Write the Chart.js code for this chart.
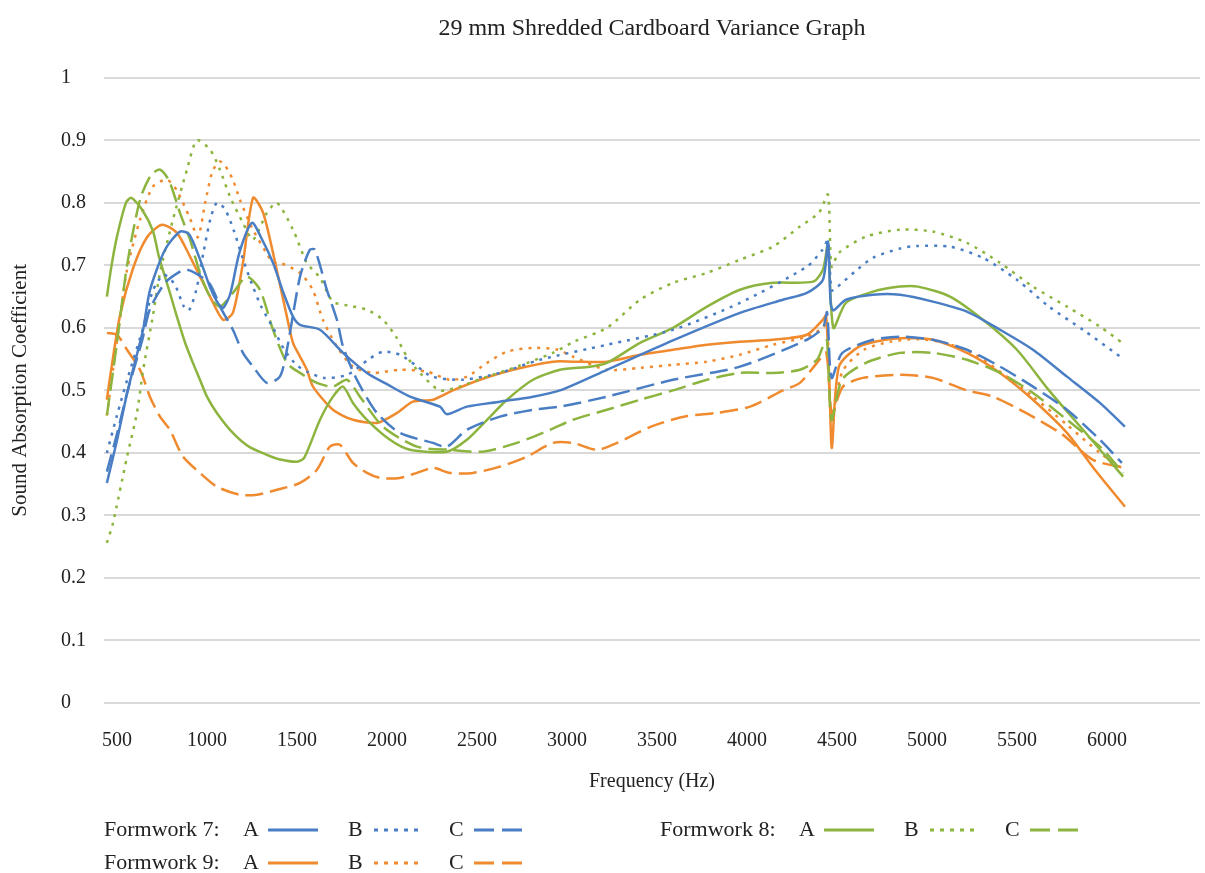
<!DOCTYPE html>
<html><head><meta charset="utf-8">
<script src="https://cdn.jsdelivr.net/npm/chart.js@4/dist/chart.umd.min.js"></script>
<style>
html,body{margin:0;padding:0;background:#fff;}
#wrap{position:relative;width:1205px;height:873px;overflow:hidden;}
#c{position:absolute;left:0;top:0;}
.lg{position:absolute;font-family:"Liberation Serif",serif;font-size:22px;color:#222;line-height:26px;white-space:nowrap;}
.ls{position:absolute;}
</style></head><body>
<div id="wrap"><canvas id="c" width="1205" height="873"></canvas><div id="legend"></div></div>
<script>
// ---- data ----
const xTickValues = [500,1000,1500,2000,2500,3000,3500,4000,4500,5000,5500,6000];
const yTickValues = [0,0.1,0.2,0.3,0.4,0.5,0.6,0.7,0.8,0.9,1];

// [frequency Hz, absorption coefficient]
const f7A = [[444,0.352],[500,0.42],[560,0.50],[645,0.597],[683,0.66],[767,0.725],[850,0.754],[900,0.75],[961,0.71],[1017,0.665],[1060,0.64],[1090,0.632],[1130,0.655],[1180,0.72],[1250,0.768],[1300,0.745],[1367,0.704],[1420,0.66],[1478,0.618],[1517,0.605],[1628,0.597],[1756,0.56],[1889,0.528],[2000,0.51],[2128,0.49],[2294,0.474],[2333,0.462],[2444,0.474],[2628,0.482],[2811,0.49],[2961,0.50],[3222,0.533],[3589,0.58],[3961,0.624],[4200,0.645],[4333,0.656],[4422,0.677],[4450,0.738],[4465,0.64],[4480,0.628],[4550,0.645],[4700,0.653],[4850,0.653],[5033,0.642],[5222,0.626],[5406,0.597],[5589,0.565],[5778,0.522],[5961,0.48],[6100,0.442]];
const f7B = [[444,0.40],[500,0.46],[560,0.52],[645,0.60],[700,0.66],[760,0.685],[820,0.67],[870,0.635],[900,0.628],[940,0.66],[980,0.72],[1020,0.775],[1055,0.80],[1100,0.79],[1150,0.755],[1200,0.71],[1250,0.67],[1300,0.635],[1367,0.60],[1430,0.565],[1500,0.54],[1556,0.53],[1650,0.52],[1780,0.525],[1900,0.55],[1978,0.562],[2072,0.557],[2170,0.538],[2250,0.522],[2420,0.517],[2628,0.528],[2850,0.549],[3222,0.573],[3589,0.597],[3961,0.64],[4333,0.698],[4420,0.725],[4450,0.74],[4470,0.66],[4500,0.665],[4600,0.69],[4700,0.712],[4850,0.727],[4944,0.731],[5128,0.73],[5311,0.712],[5500,0.677],[5678,0.634],[5867,0.597],[6083,0.552]];
const f7C = [[444,0.37],[500,0.43],[560,0.50],[640,0.58],[683,0.63],[767,0.672],[850,0.69],[889,0.693],[950,0.685],[1017,0.67],[1080,0.63],[1144,0.597],[1200,0.56],[1256,0.538],[1333,0.512],[1405,0.522],[1444,0.565],[1517,0.682],[1572,0.725],[1600,0.725],[1667,0.66],[1722,0.613],[1756,0.57],[1833,0.517],[1944,0.464],[2072,0.432],[2256,0.416],[2333,0.41],[2444,0.437],[2628,0.458],[2811,0.469],[2961,0.474],[3222,0.49],[3589,0.517],[3961,0.538],[4333,0.581],[4422,0.60],[4445,0.625],[4470,0.52],[4530,0.56],[4700,0.581],[4850,0.586],[5033,0.581],[5222,0.565],[5406,0.538],[5589,0.506],[5778,0.469],[5961,0.421],[6083,0.384]];
const f8A = [[444,0.65],[470,0.70],[500,0.746],[550,0.80],[580,0.808],[640,0.789],[700,0.755],[733,0.714],[790,0.66],[833,0.618],[880,0.575],[922,0.544],[961,0.517],[1000,0.49],[1055,0.464],[1144,0.432],[1233,0.41],[1333,0.397],[1400,0.39],[1500,0.386],[1540,0.392],[1628,0.453],[1700,0.49],[1756,0.506],[1811,0.48],[1889,0.453],[2017,0.421],[2128,0.405],[2333,0.402],[2444,0.421],[2556,0.453],[2667,0.485],[2811,0.517],[2961,0.533],[3128,0.538],[3222,0.544],[3406,0.576],[3589,0.60],[3778,0.634],[3961,0.661],[4144,0.672],[4367,0.674],[4422,0.693],[4450,0.733],[4480,0.60],[4550,0.64],[4700,0.658],[4850,0.666],[4950,0.666],[5128,0.65],[5311,0.613],[5500,0.565],[5678,0.50],[5867,0.437],[6090,0.362]];
const f8B = [[444,0.256],[478,0.288],[556,0.394],[611,0.464],[644,0.53],[700,0.62],[739,0.688],[811,0.773],[889,0.853],[944,0.90],[1017,0.885],[1072,0.853],[1128,0.81],[1200,0.768],[1256,0.741],[1333,0.784],[1389,0.80],[1478,0.757],[1555,0.704],[1628,0.68],[1700,0.642],[1800,0.635],[1889,0.629],[1978,0.613],[2050,0.586],[2111,0.554],[2183,0.528],[2294,0.50],[2400,0.506],[2556,0.522],[2722,0.538],[2922,0.56],[3039,0.578],[3222,0.60],[3406,0.645],[3589,0.672],[3778,0.688],[3961,0.709],[4144,0.73],[4294,0.762],[4400,0.784],[4450,0.813],[4470,0.698],[4511,0.72],[4661,0.746],[4850,0.757],[5033,0.754],[5222,0.736],[5406,0.704],[5589,0.666],[5778,0.634],[5961,0.602],[6100,0.573]];
const f8C = [[444,0.46],[500,0.576],[556,0.70],[628,0.805],[690,0.845],[740,0.853],[790,0.835],[850,0.784],[906,0.741],[961,0.688],[1017,0.65],[1072,0.634],[1144,0.656],[1222,0.682],[1294,0.661],[1367,0.597],[1444,0.544],[1517,0.528],[1611,0.512],[1700,0.506],[1778,0.517],[1850,0.49],[1978,0.442],[2167,0.41],[2350,0.405],[2533,0.402],[2722,0.416],[2906,0.437],[3033,0.453],[3222,0.469],[3406,0.485],[3589,0.50],[3778,0.517],[3961,0.528],[4144,0.528],[4294,0.533],[4389,0.549],[4422,0.57],[4445,0.58],[4470,0.453],[4528,0.517],[4661,0.544],[4850,0.56],[5033,0.56],[5222,0.549],[5406,0.528],[5589,0.496],[5778,0.453],[5961,0.41],[6090,0.368]];
const f9A = [[444,0.485],[461,0.52],[517,0.62],[589,0.695],[667,0.745],[750,0.765],[833,0.752],[906,0.714],[961,0.682],[1017,0.65],[1089,0.613],[1144,0.624],[1200,0.704],[1256,0.808],[1311,0.785],[1367,0.72],[1444,0.618],[1478,0.576],[1517,0.554],[1555,0.533],[1589,0.506],[1700,0.469],[1811,0.453],[1944,0.448],[2056,0.464],[2144,0.482],[2256,0.485],[2367,0.50],[2517,0.517],[2700,0.533],[2922,0.546],[3033,0.546],[3222,0.546],[3406,0.557],[3589,0.565],[3778,0.573],[3961,0.578],[4144,0.581],[4333,0.589],[4422,0.613],[4440,0.62],[4460,0.49],[4472,0.408],[4511,0.538],[4622,0.57],[4767,0.581],[4889,0.584],[5033,0.581],[5222,0.56],[5406,0.528],[5589,0.485],[5778,0.432],[5933,0.373],[6100,0.314]];
const f9B = [[444,0.46],[500,0.58],[556,0.693],[628,0.773],[700,0.826],[778,0.837],[830,0.821],[906,0.775],[950,0.745],[990,0.80],[1030,0.85],[1070,0.866],[1100,0.86],[1144,0.837],[1183,0.805],[1250,0.76],[1330,0.72],[1367,0.704],[1405,0.704],[1517,0.688],[1589,0.66],[1644,0.613],[1722,0.57],[1811,0.538],[1922,0.528],[2072,0.533],[2222,0.53],[2350,0.517],[2444,0.522],[2556,0.544],[2667,0.562],[2811,0.568],[2950,0.565],[3033,0.554],[3222,0.533],[3406,0.536],[3589,0.541],[3778,0.546],[3961,0.557],[4144,0.573],[4333,0.586],[4422,0.60],[4445,0.61],[4470,0.45],[4530,0.53],[4650,0.565],[4800,0.578],[4950,0.582],[5100,0.576],[5250,0.56],[5406,0.53],[5589,0.49],[5778,0.445],[5961,0.40],[6100,0.372]];
const f9C = [[444,0.592],[500,0.589],[556,0.565],[628,0.533],[683,0.49],[739,0.458],[794,0.437],[867,0.394],[961,0.368],[1055,0.346],[1183,0.333],[1278,0.333],[1389,0.341],[1517,0.352],[1611,0.373],[1683,0.41],[1739,0.413],[1811,0.384],[1889,0.368],[1961,0.36],[2072,0.36],[2167,0.368],[2256,0.376],[2350,0.368],[2478,0.368],[2628,0.378],[2778,0.394],[2922,0.416],[3033,0.416],[3167,0.405],[3278,0.416],[3467,0.442],[3650,0.458],[3833,0.464],[4017,0.474],[4200,0.50],[4294,0.512],[4389,0.544],[4440,0.56],[4472,0.464],[4533,0.506],[4644,0.52],[4850,0.525],[5033,0.52],[5222,0.50],[5367,0.49],[5550,0.464],[5750,0.43],[5922,0.389],[6100,0.376]];

const groupNames = ['Formwork 7:', 'Formwork 8:', 'Formwork 9:'];
const variantNames = ['A', 'B', 'C'];
const seriesData = [[f7A,f7B,f7C],[f8A,f8B,f8C],[f9A,f9B,f9C]];

// ---- styles ----
const FONT = '"Liberation Serif", serif';
const TEXT = '#222';
const groupColors = ['#4a7ec4', '#8cb43e', '#f08a2e'];
const variantDash = [[], [3, 6], [18, 7]];
const legendDash = ['', '4,6', '20,8'];

const datasets = [];
seriesData.forEach((grp, g) => grp.forEach((pts, v) => {
  datasets.push({
    label: groupNames[g] + ' ' + variantNames[v],
    data: pts.map(p => ({x: p[0], y: p[1]})),
    borderColor: groupColors[g],
    backgroundColor: groupColors[g],
    borderWidth: 2.5,
    borderDash: variantDash[v],
    pointRadius: 0,
    tension: 0.25,
    fill: false
  });
}));

Chart.defaults.color = TEXT;
new Chart(document.getElementById('c'), {
  type: 'line',
  data: {datasets},
  options: {
    responsive: false,
    animation: false,
    devicePixelRatio: 1,
    layout: {padding: {left: 0, right: 5, top: 0, bottom: 79}},
    plugins: {
      legend: {display: false},
      tooltip: {enabled: false},
      title: {display: true, fullSize: false, text: '29 mm Shredded Cardboard Variance Graph',
        font: {family: FONT, size: 24, weight: 'normal'}, color: TEXT, padding: {top: 14, bottom: 35}}
    },
    scales: {
      x: {type: 'linear', min: 428, max: 6517,
        afterBuildTicks: s => { s.ticks = xTickValues.map(v => ({value: v})); },
        grid: {display: true, drawOnChartArea: false, drawTicks: true, tickLength: 26, color: 'rgba(0,0,0,0)'},
        border: {display: false},
        ticks: {font: {family: FONT, size: 20}, color: TEXT, padding: 0, maxRotation: 0, autoSkip: false,
          callback: v => String(v)},
        title: {display: true, text: 'Frequency (Hz)', font: {family: FONT, size: 20}, color: TEXT, padding: {top: 17, bottom: 0}}
      },
      y: {type: 'linear', min: 0, max: 1, position: 'left', weight: 0,
        afterBuildTicks: s => { s.ticks = yTickValues.map(v => ({value: v})); },
        afterFit: s => { s.width = 43; },
        grid: {color: '#d9d9d9', lineWidth: 2, drawTicks: false}, border: {display: false},
        ticks: {crossAlign: 'far', padding: 0, font: {family: FONT, size: 20}, color: TEXT,
          callback: v => String(Math.round(v * 10) / 10)}
      },
      yTitle: {type: 'linear', min: 0, max: 1, position: 'left', weight: 1,
        afterFit: s => { s.width = 61; },
        grid: {display: false, drawTicks: false}, border: {display: false},
        ticks: {display: false},
        title: {display: true, text: 'Sound Absorption Coefficient', font: {family: FONT, size: 21}, color: TEXT, padding: {top: 8, bottom: 0}}
      }
    }
  }
});

// ---- legend (HTML) ----
const legendPos = [[104, 830], [660, 830], [104, 863]];
const letterOff = [139, 244, 345];
const lineOff = [[164, 50], [270, 50], [370, 54]];
const L = document.getElementById('legend');
groupNames.forEach((name, g) => {
  const [gx, gy] = legendPos[g];
  const t = document.createElement('div');
  t.className = 'lg'; t.textContent = name;
  t.style.left = gx + 'px'; t.style.top = (gy - 14) + 'px';
  L.appendChild(t);
  variantNames.forEach((vn, v) => {
    const a = document.createElement('div');
    a.className = 'lg'; a.textContent = vn;
    a.style.left = (gx + letterOff[v]) + 'px'; a.style.top = (gy - 14) + 'px';
    L.appendChild(a);
    const [ox, w] = lineOff[v];
    const ns = 'http://www.w3.org/2000/svg';
    const svg = document.createElementNS(ns, 'svg');
    svg.setAttribute('class', 'ls'); svg.setAttribute('width', w); svg.setAttribute('height', 6);
    svg.style.left = (gx + ox) + 'px'; svg.style.top = (gy - 3) + 'px';
    const ln = document.createElementNS(ns, 'line');
    ln.setAttribute('x1', 0); ln.setAttribute('y1', 3); ln.setAttribute('x2', w); ln.setAttribute('y2', 3);
    ln.setAttribute('stroke', groupColors[g]); ln.setAttribute('stroke-width', 3);
    if (legendDash[v]) ln.setAttribute('stroke-dasharray', legendDash[v]);
    svg.appendChild(ln);
    L.appendChild(svg);
  });
});
</script>
</body></html>
